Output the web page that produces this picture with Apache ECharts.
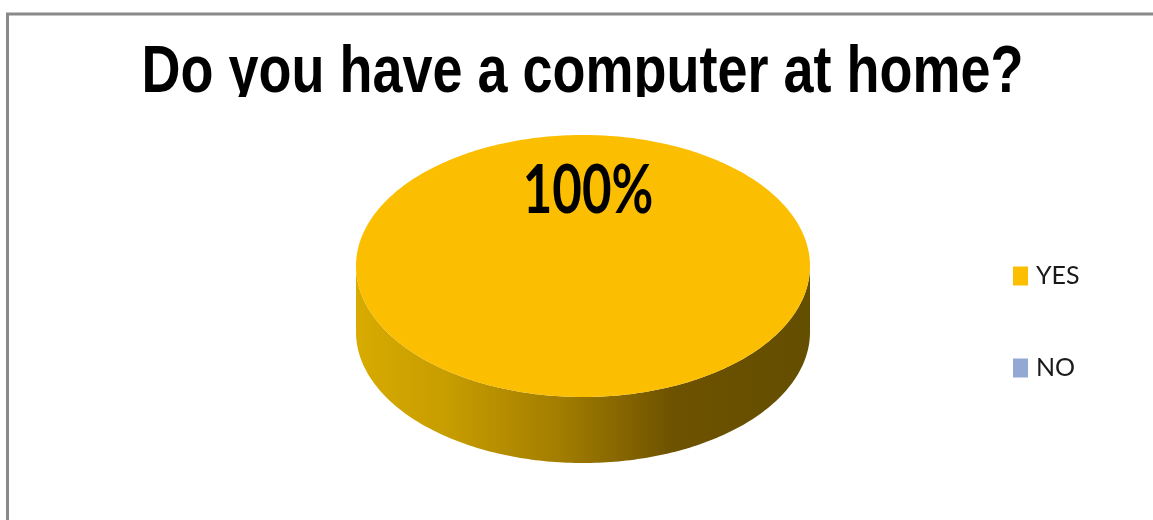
<!DOCTYPE html>
<html>
<head>
<meta charset="utf-8">
<title>Do you have a computer at home?</title>
<script src="https://cdn.jsdelivr.net/npm/echarts@6/dist/echarts.min.js"></script>
<style>
  html, body { margin: 0; padding: 0; background: #ffffff; }
  #chart { width: 1153px; height: 520px; }
</style>
</head>
<body>
<div id="chart"></div>
<script>
// Survey answers
const categories = ['YES', 'NO'];
const values = [100, 0];
const titleText = 'Do you have a computer at home?';

// Slice colours, in category order
const palette = ['#FBBE00', '#93A9D3'];

// Layout of the 3-D disc: centre of the top face, radii, thickness
const CX = 583, CY = 266, RX = 227, RY = 131, DEPTH = 66;
const START = -Math.PI / 2; // first slice starts at 12 o'clock, clockwise

const TITLE_FONT = "'Liberation Sans', Arial, sans-serif";
const LABEL_FONT = "Lato, 'Liberation Sans', sans-serif";

const total = values.reduce((a, b) => a + b, 0);

function sliceAngles(i) {
  let before = 0;
  for (let k = 0; k < i; k++) before += values[k];
  const a0 = START + (before / total) * Math.PI * 2;
  const a1 = a0 + (values[i] / total) * Math.PI * 2;
  return [a0, a1];
}

function arcPoints(a0, a1, dy) {
  const n = Math.max(2, Math.ceil((a1 - a0) / (Math.PI / 180)));
  const pts = [];
  for (let s = 0; s <= n; s++) {
    const t = a0 + (a1 - a0) * s / n;
    pts.push([CX + RX * Math.cos(t), CY + dy + RY * Math.sin(t)]);
  }
  return pts;
}

function sideGradient() {
  return new echarts.graphic.LinearGradient(CX - RX, 0, CX + RX, 0, [
    { offset: 0.0, color: '#D8AB00' },
    { offset: 0.2, color: '#C79D00' },
    { offset: 0.45, color: '#A27D00' },
    { offset: 0.7, color: '#6D5200' },
    { offset: 1.0, color: '#644E00' }
  ], true);
}

function makeRenderer(i) {
  return function (params, api) {
    if (!values[i]) return { type: 'group', children: [] };
    const [a0, a1] = sliceAngles(i);
    const full = values[i] >= total;
    const children = [];

    // Front wall: the part of the slice facing the viewer (sin > 0)
    for (let k = -1; k <= 1; k++) {
      const lo = Math.max(a0, 2 * Math.PI * k);
      const hi = Math.min(a1, Math.PI + 2 * Math.PI * k);
      if (hi > lo) {
        const top = arcPoints(lo, hi, 0);
        const bottom = arcPoints(lo, hi, DEPTH).reverse();
        children.push({
          type: 'polygon',
          shape: { points: top.concat(bottom) },
          style: { fill: sideGradient(), stroke: null },
          z2: 1
        });
      }
    }

    // Top face
    const rim = arcPoints(a0, a1, 0);
    const topPts = full ? rim : [[CX, CY]].concat(rim);
    children.push({
      type: 'polygon',
      shape: { points: topPts },
      style: { fill: api.visual('color'), stroke: null },
      z2: 10
    });

    // Percentage label
    const mid = full ? -Math.PI / 2 : (a0 + a1) / 2;
    const pct = Math.round(values[i] / total * 100) + '%';
    children.push({
      type: 'text',
      x: CX + 0.57 * RX * Math.cos(mid) + 5,
      y: CY + 0.57 * RY * Math.sin(mid),
      scaleY: 1.3,
      style: {
        text: pct,
        fill: '#000000',
        font: 'bold 51px ' + LABEL_FONT,
        align: 'center',
        verticalAlign: 'middle'
      },
      z2: 20
    });

    return { type: 'group', children: children };
  };
}

const chart = echarts.init(document.getElementById('chart'), null, { renderer: 'canvas' });

chart.setOption({
  animation: false,
  backgroundColor: '#ffffff',
  legend: {
    orient: 'vertical',
    left: 1008,
    top: 258,
    itemWidth: 15,
    itemHeight: 19,
    itemGap: 66,
    icon: 'rect',
    data: categories,
    textStyle: {
      fontFamily: LABEL_FONT,
      fontSize: 25,
      lineHeight: 26,
      color: '#1a1a1a',
      padding: [0, 0, 0, 3]
    }
  },
  graphic: [
    {
      // chart frame
      type: 'rect',
      shape: { x: 7.5, y: 14, width: 1200, height: 600 },
      style: { fill: null, stroke: '#8a8a8a', lineWidth: 3 },
      silent: true
    },
    {
      // chart title, drawn tall and narrow
      type: 'text',
      x: 582.5,
      y: 74,
      scaleY: 1.22,
      style: {
        text: titleText,
        fill: '#000000',
        font: 'bold 54px ' + TITLE_FONT,
        align: 'center',
        verticalAlign: 'middle'
      },
      z: 10,
      silent: true
    },
    {
      // the title box cuts off the descenders
      type: 'rect',
      shape: { x: 120, y: 97, width: 920, height: 30 },
      style: { fill: '#ffffff' },
      z: 100,
      silent: true
    }
  ],
  series: categories.map((name, i) => ({
    type: 'custom',
    name: name,
    coordinateSystem: 'none',
    itemStyle: { color: palette[i] },
    data: [values[i]],
    renderItem: makeRenderer(i)
  }))
});
</script>
</body>
</html>
